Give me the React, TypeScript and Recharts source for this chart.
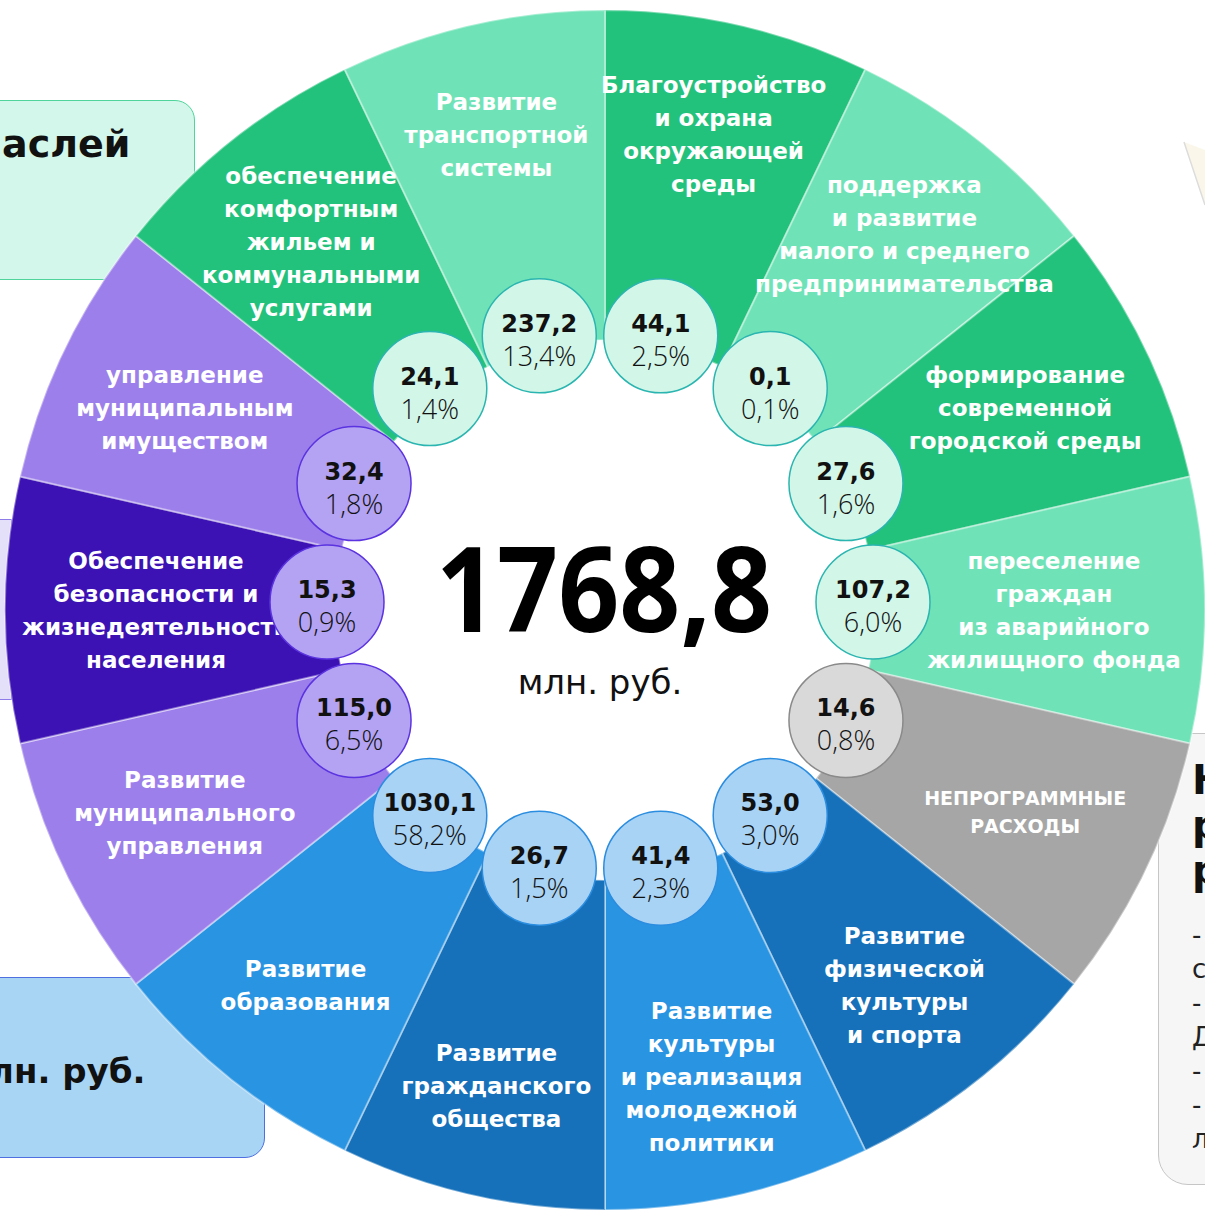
import { PieChart, Pie, Cell } from "recharts";

// sectors clockwise from 12 o'clock
const categories = [
  "Благоустройство\nи охрана\nокружающей\nсреды",
  "поддержка\nи развитие\nмалого и среднего\nпредпринимательства",
  "формирование\nсовременной\nгородской среды",
  "переселение\nграждан\nиз аварийного\nжилищного фонда",
  "НЕПРОГРАММНЫЕ\nРАСХОДЫ",
  "Развитие\nфизической\nкультуры\nи спорта",
  "Развитие\nкультуры\nи реализация\nмолодежной\nполитики",
  "Развитие\nгражданского\nобщества",
  "Развитие\nобразования",
  "Развитие\nмуниципального\nуправления",
  "Обеспечение\nбезопасности и\nжизнедеятельности\nнаселения",
  "управление\nмуниципальным\nимуществом",
  "обеспечение\nкомфортным\nжильем и\nкоммунальными\nуслугами",
  "Развитие\nтранспортной\nсистемы",
];
const amounts = [44.1, 0.1, 27.6, 107.2, 14.6, 53.0, 41.4, 26.7, 1030.1, 115.0, 15.3, 32.4, 24.1, 237.2];
const shares = [2.5, 0.1, 1.6, 6.0, 0.8, 3.0, 2.3, 1.5, 58.2, 6.5, 0.9, 1.8, 1.4, 13.4];
const groups = ["green", "green", "green", "green", "gray", "blue", "blue", "blue", "blue", "purple", "purple", "purple", "green", "green"];
const total = 1768.8;

const wedgeColors = [
  "#23c27c", "#6fe3b7", "#23c27c", "#6fe3b7", "#a6a6a6", "#1671ba", "#2994e2",
  "#1671ba", "#2994e2", "#9c7fea", "#3c12b4", "#9c7fea", "#23c27c", "#6fe3b7",
];
const bubble: Record<string, { fill: string; stroke: string }> = {
  green: { fill: "#d2f6e8", stroke: "#2bb5b0" },
  gray: { fill: "#d9d9d9", stroke: "#8a8a8a" },
  blue: { fill: "#a9d3f4", stroke: "#2b8de0" },
  purple: { fill: "#b3a3f2", stroke: "#5b33e0" },
};

const rows = categories.map((name, i) => ({ name, amount: amounts[i], share: shares[i], group: groups[i], slot: 1 }));

const RAD = Math.PI / 180;
const fmt = (v: number) => v.toFixed(1).replace(".", ",");
const SANS = "'DejaVu Sans', sans-serif";

function polar(cx: number, cy: number, r: number, angle: number) {
  return { x: cx + r * Math.cos(-angle * RAD), y: cy + r * Math.sin(-angle * RAD) };
}

function NameLabel(props: any) {
  const { cx, cy, midAngle, index } = props;
  const text = rows[index].name;
  const lines = text.split("\n");
  const upper = text === text.toUpperCase();
  const fs = upper ? 19 : 23;
  const lh = upper ? 28 : 33;
  // side labels and tall blocks sit a little closer to the hole
  const r = 449 + 40 * Math.abs(Math.sin(midAngle * RAD)) - 9 * Math.max(0, lines.length - 4);
  const p = polar(cx, cy, r, midAngle);
  const y0 = p.y - ((lines.length - 1) * lh) / 2 + fs * 0.36;
  return (
    <text x={p.x} y={y0} textAnchor="middle" fill="#fff" fontFamily={SANS} fontWeight={700} fontSize={fs}>
      {lines.map((l: string, k: number) => (
        <tspan key={k} x={p.x} dy={k === 0 ? 0 : lh}>
          {l}
        </tspan>
      ))}
    </text>
  );
}

function ValueBubble(props: any) {
  const { cx, cy, midAngle, index } = props;
  const row = rows[index];
  const c = bubble[row.group];
  const p = polar(cx, cy, 273, midAngle);
  return (
    <g>
      <circle cx={p.x} cy={p.y} r={57} fill={c.fill} stroke={c.stroke} strokeWidth={1.5} />
      <text x={p.x} y={p.y - 4} textAnchor="middle" fontFamily={SANS} fontWeight={700} fontSize={24} fill="#111">
        {fmt(row.amount)}
      </text>
      <text x={p.x} y={p.y + 30} textAnchor="middle" fontFamily="'Open Sans', 'DejaVu Sans', sans-serif" fontWeight={300} fontSize={27} fill="#111">
        {fmt(row.share)}%
      </text>
    </g>
  );
}

const box = (s: React.CSSProperties): React.CSSProperties => ({ position: "absolute", boxSizing: "border-box", ...s });

export default function App() {
  return (
    <div style={{ position: "absolute", left: 0, top: 0, width: 1205, height: 1211, overflow: "hidden", background: "#fff" }}>
      <div style={box({ left: -20, top: 100, width: 215, height: 180, background: "#d3f7ea", border: "1.5px solid #4fd59c", borderRadius: 20 })} />
      <div style={{ position: "absolute", left: 2, top: 122, fontFamily: SANS, fontWeight: 700, fontSize: 38, color: "#111" }}>аслей</div>
      <div style={box({ left: -20, top: 519, width: 32, height: 181, background: "#e4e0fa", border: "1.5px solid #8f7ce9" })} />
      <div style={box({ left: -20, top: 977, width: 285, height: 181, background: "#a9d5f4", border: "1.5px solid #4f6fe0", borderRadius: 20 })} />
      <div style={{ position: "absolute", left: -11, top: 1051, fontFamily: SANS, fontWeight: 700, fontSize: 34, color: "#111" }}>лн. руб.</div>
      <div style={box({ left: 1158, top: 733, width: 90, height: 452, background: "#f6f6f6", border: "1.5px solid #c6c6c6", borderRadius: 30 })} />
      <div style={{ position: "absolute", left: 1192, top: 758, fontFamily: SANS, fontWeight: 700, fontSize: 40, lineHeight: "45px", color: "#111" }}>
        Н<br />р<br />р
      </div>
      <div style={{ position: "absolute", left: 1192, top: 918, fontFamily: SANS, fontSize: 26, lineHeight: "34px", color: "#222" }}>
        -<br />с<br />-<br />Д<br />-<br />-<br />л
      </div>
      <svg style={{ position: "absolute", left: 1170, top: 130 }} width={40} height={90}>
        <polygon points="14,12 35,75 35,20" fill="#f6f1dc" opacity={0.6} />
        <line x1={14} y1={12} x2={35} y2={75} stroke="#dcdcdc" strokeWidth={1.5} />
      </svg>

      <div style={{ position: "absolute", left: 0, top: 0 }}>
        <PieChart width={1205} height={1211} margin={{ top: 0, right: 0, bottom: 0, left: 0 }}>
          <Pie
            data={rows}
            dataKey="slot"
            cx={605}
            cy={610}
            innerRadius={270}
            outerRadius={600}
            startAngle={90}
            endAngle={-270}
            labelLine={false}
            label={NameLabel}
            isAnimationActive={false}
          >
            {rows.map((r, i) => (
              <Cell key={r.name} fill={wedgeColors[i]} stroke="rgba(255,255,255,0.4)" strokeWidth={2} />
            ))}
          </Pie>
          <Pie
            data={rows}
            dataKey="slot"
            cx={600}
            cy={602}
            innerRadius={272}
            outerRadius={273}
            startAngle={90}
            endAngle={-270}
            fill="transparent"
            stroke="none"
            labelLine={false}
            label={ValueBubble}
            isAnimationActive={false}
          />
          <text x={604} y={632} textAnchor="middle" fontFamily="'Noto Sans', sans-serif" fontWeight={700} fontSize={118} textLength={336} lengthAdjust="spacingAndGlyphs" fill="#000">
            {fmt(total)}
          </text>
          <text x={600} y={694} textAnchor="middle" fontFamily={SANS} fontSize={34} fill="#111">
            млн. руб.
          </text>
        </PieChart>
      </div>
    </div>
  );
}
